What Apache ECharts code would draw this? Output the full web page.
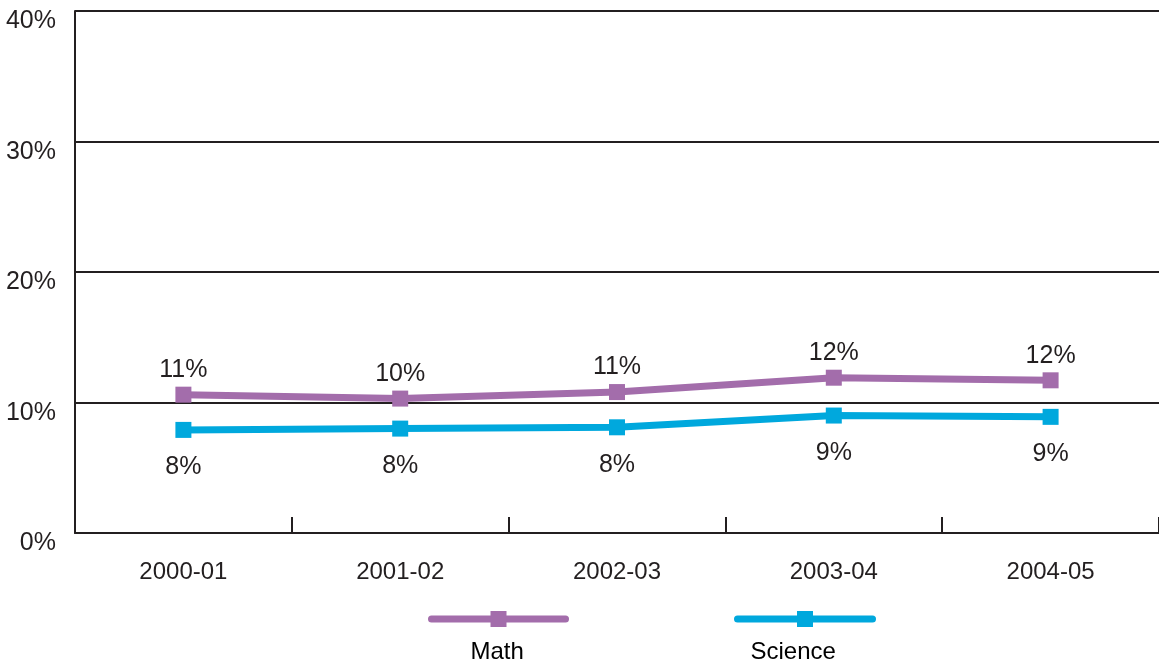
<!DOCTYPE html>
<html>
<head>
<meta charset="utf-8">
<script src="https://cdn.jsdelivr.net/npm/echarts@6/dist/echarts.min.js"></script>
<style>html,body{margin:0;padding:0;background:#fff;}#c{width:1159px;height:666px;}</style>
</head>
<body>
<div id="c"></div>
<script>
var categories = ['2000-01', '2001-02', '2002-03', '2003-04', '2004-05'];
var mathValues = [10.6, 10.3, 10.8, 11.9, 11.7];
var scienceValues = [7.9, 8.0, 8.1, 9.0, 8.9];
var yTicks = [0, 10, 20, 30, 40];

var FONT = 'Liberation Sans, Arial, sans-serif';
var INK = '#231f20';
var MATH_C = '#a36dab';
var SCI_C = '#00a8dd';

var chart = echarts.init(document.getElementById('c'), null, {renderer: 'canvas'});
chart.setOption({
  animation: false,
  backgroundColor: '#fff',
  grid: {left: 75, top: 11, right: -8, bottom: 133, containLabel: false},
  xAxis: {
    type: 'category',
    data: categories,
    boundaryGap: true,
    axisLine: {show: true, lineStyle: {color: INK, width: 2}},
    axisTick: {show: true, inside: true, length: 16, lineStyle: {color: INK, width: 2}},
    axisLabel: {color: INK, fontFamily: FONT, fontSize: 24, margin: 27},
    splitLine: {show: false}
  },
  yAxis: {
    type: 'value',
    min: yTicks[0],
    max: yTicks[yTicks.length - 1],
    interval: 10,
    axisLine: {show: true, lineStyle: {color: INK, width: 2}},
    axisTick: {show: false},
    axisLabel: {
      color: INK, fontFamily: FONT, fontSize: 25, margin: 19,
      verticalAlign: 'top', lineHeight: 21,
      formatter: function (v) { return v + '%'; }
    },
    splitLine: {show: true, lineStyle: {color: INK, width: 2}}
  },
  legend: [
    {
      data: ['Math'], left: 428, top: 553, padding: 0,
      itemWidth: 134, itemHeight: 20,
      lineStyle: {cap: 'round', width: 7},
      formatter: function (n) { return '\n' + n; },
      textStyle: {color: '#000', fontFamily: FONT, fontSize: 24, lineHeight: 66, padding: [0, 0, 0, -100]}
    },
    {
      data: ['Science'], left: 734, top: 553, padding: 0,
      itemWidth: 135, itemHeight: 20,
      lineStyle: {cap: 'round', width: 7},
      formatter: function (n) { return '\n' + n; },
      textStyle: {color: '#000', fontFamily: FONT, fontSize: 24, lineHeight: 66, padding: [0, 0, 0, -127]}
    }
  ],
  series: [
    {
      name: 'Math', type: 'line', data: mathValues,
      symbol: 'rect', symbolSize: 16,
      lineStyle: {color: MATH_C, width: 7},
      itemStyle: {color: MATH_C},
      label: {show: true, position: 'top', distance: 4, color: INK, fontFamily: FONT, fontSize: 25,
        formatter: function (p) { return Math.round(p.value) + '%'; }}
    },
    {
      name: 'Science', type: 'line', data: scienceValues,
      symbol: 'rect', symbolSize: 16,
      lineStyle: {color: SCI_C, width: 7},
      itemStyle: {color: SCI_C},
      label: {show: true, position: 'bottom', distance: 17, color: INK, fontFamily: FONT, fontSize: 25,
        formatter: function (p) { return Math.round(p.value) + '%'; }}
    }
  ]
});
</script>
</body>
</html>
